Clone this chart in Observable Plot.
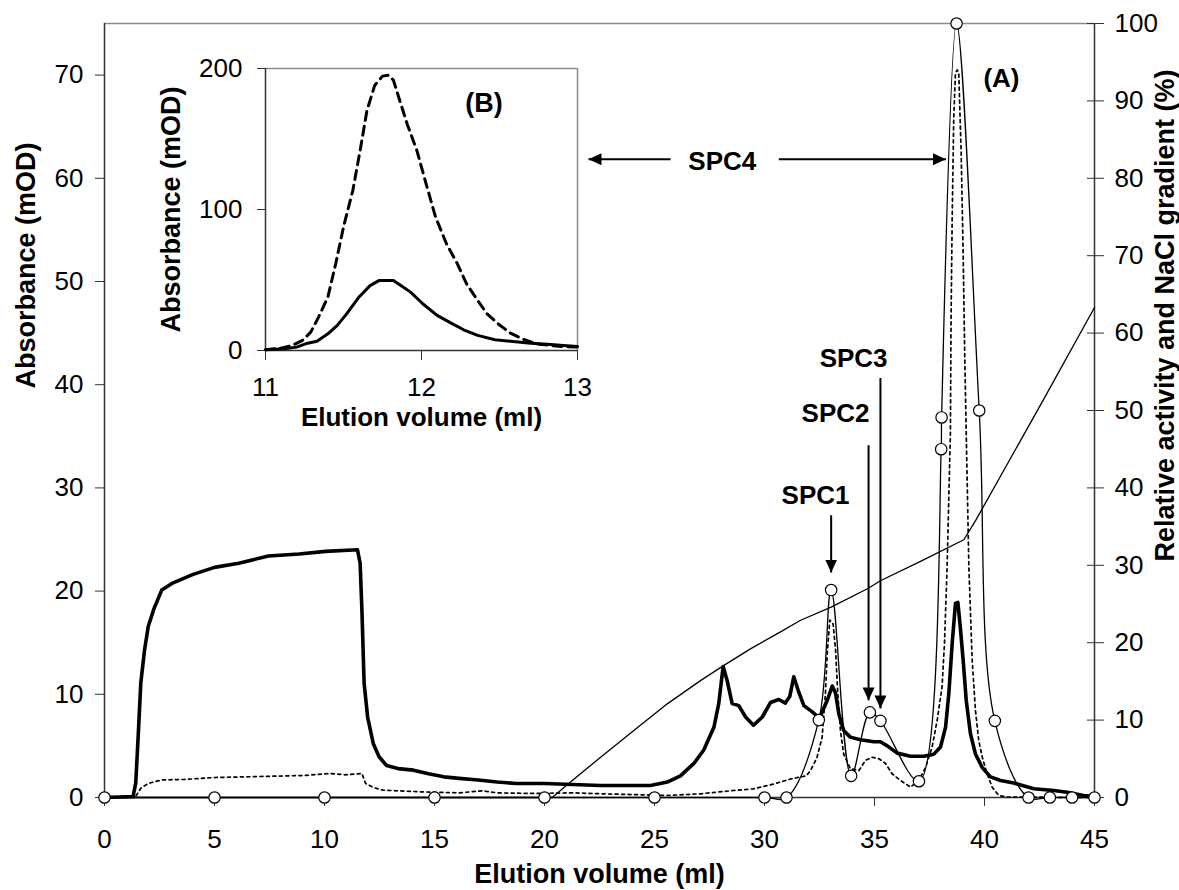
<!DOCTYPE html>
<html>
<head>
<meta charset="utf-8">
<script src="https://cdn.jsdelivr.net/npm/d3@7"></script>
<script src="https://cdn.jsdelivr.net/npm/@observablehq/plot@0.6"></script>
<style>
  body { margin: 0; background: #fff; }
  #chart { position: relative; width: 1179px; height: 890px; }
  #chart svg { position: absolute; overflow: visible; }
</style>
</head>
<body>
<div id="chart"></div>
<script>
// ---- Anion-exchange run (A): absorbance traces, mOD ----
const absSolidMl = [0,1.3,1.42,1.53,1.65,1.82,1.99,2.25,2.6,3.12,4.0,5.0,6.1,7.45,8.85,10.05,11.5,11.62,11.7,11.8,11.96,12.22,12.48,12.82,13.34,14.04,14.73,15.42,16.12,16.98,17.85,18.72,20.0,22.55,24.82,25.58,26.18,26.79,27.24,27.7,27.92,28.12,28.3,28.53,28.83,29.14,29.5,29.9,30.27,30.65,30.95,31.15,31.33,31.56,31.79,32.17,32.5,32.85,33.08,33.23,33.38,33.6,33.9,34.36,34.97,35.27,35.58,36.03,36.64,37.24,37.7,38.0,38.23,38.38,38.53,38.68,38.79,38.9,39.03,39.17,39.36,39.59,39.9,40.27,40.73,41.33,42.24,43.15,43.76,44.5,45];
const absSolidMOD = [0,0.1,1.4,5.9,11.1,14.3,16.6,18.3,20.1,20.8,21.6,22.3,22.7,23.4,23.6,23.85,24.0,22.7,18.2,11.1,7.8,5.2,3.95,3.1,2.8,2.65,2.3,2.0,1.85,1.7,1.5,1.36,1.36,1.16,1.16,1.5,2.1,3.3,4.6,6.8,9.1,12.7,11.35,9.1,8.9,7.8,7.0,7.8,9.2,9.5,9.15,9.8,11.7,10.2,8.9,8.3,7.7,9.4,10.8,10.1,8.1,6.5,5.85,5.6,5.4,5.4,5.0,4.3,4.0,4.0,4.2,4.9,6.8,10.1,14.9,18.8,18.9,16.5,13.3,9.4,6.2,4.2,2.9,2.0,1.65,1.4,0.84,0.68,0.5,0.2,0.1];

const absDottedMl = [0,1.39,1.65,1.99,2.6,3.64,5.03,6.41,7.8,9.19,10.23,10.92,11.7,11.87,12.22,12.65,14.38,16.12,17.16,17.85,19.58,21.3,22.55,25.58,27.1,28.6,29.5,30.4,31.2,31.9,32.09,32.39,32.62,32.77,32.85,32.97,33.12,33.23,33.33,33.45,33.6,33.9,34.29,34.59,34.9,35.2,35.5,35.8,36.18,36.64,37.01,37.32,37.62,37.85,38.07,38.18,38.27,38.3,38.45,38.48,38.53,38.6,38.68,38.76,38.83,38.94,39.03,39.1,39.17,39.29,39.44,39.59,39.74,39.9,40.12,40.35,40.65,41.0,45];
const absDottedMOD = [0,0,0.9,1.36,1.7,1.75,1.94,2.0,2.07,2.14,2.33,2.2,2.33,1.36,0.97,0.71,0.55,0.45,0.65,0.45,0.39,0.45,0.36,0.2,0.36,0.68,0.84,1.3,1.8,2.1,2.6,3.9,5.85,10.1,13.9,17.2,16.8,14.3,10.1,6.5,4.2,2.8,2.6,3.6,3.9,3.75,3.3,2.3,1.65,1.0,1.65,2.9,4.9,7.5,10.7,14.9,20.4,22.3,35.3,46.3,56,65.7,70.2,70.5,70.2,62.4,52.7,43,35.3,22.3,13.3,8.4,5.5,3.9,2.3,1.0,0.2,0.05,0];

// ---- Relative activity of collected fractions, % ----
const activityMl  = [0,5,10,15,20,25,30,31,32.47,33.03,33.94,34.79,35.27,37.02,38.03,38.05,38.73,39.76,40.47,42.0,42.97,43.98,45];
const activityPct = [0,0,0,0,0,0,0,0,10,26.8,2.8,11,9.9,2.1,45,49.1,100,50,9.9,0,0,0,0];

// ---- NaCl gradient, % ----
const naclMl  = [0,20.35,21.18,22.55,24.06,25.58,27.09,28.12,29.36,30.73,31.64,33.03,34.7,35.27,37.16,39.06,39.6,42.7,45];
const naclPct = [0,0,2.0,5.2,8.66,12.1,15.1,17.0,19.2,21.4,22.9,24.6,27.0,28.0,30.6,33.3,35.8,51.5,63.3];

// ---- Gel filtration of SPC4 (B), mOD ----
const insetDashedMl  = [11.0,11.1,11.17,11.235,11.29,11.34,11.4,11.45,11.5,11.56,11.61,11.65,11.7,11.75,11.79,11.82,11.86,11.91,11.97,12.03,12.09,12.16,12.23,12.29,12.36,12.42,12.49,12.57,12.66,12.74,12.83,12.91,13.0];
const insetDashedMOD = [0.5,1.7,3.5,7,13,23.7,38,61.5,87.6,113.6,144,170,188,194.6,195.3,191.7,177.5,160,142,118,94.7,75.7,61.5,47,35.5,26,19,12.3,7.6,4.7,3.5,2.8,2.4];
const insetSolidMl  = [11.0,11.12,11.2,11.27,11.33,11.4,11.46,11.52,11.6,11.67,11.73,11.82,11.87,11.93,12.01,12.1,12.19,12.27,12.36,12.47,12.57,12.7,12.83,12.91,13.0];
const insetSolidMOD = [0.5,1.2,2.4,5.2,6.6,11.8,17.8,26,38,46,49.7,49.7,46,41.4,33,24.9,19.4,14.7,10.7,7.6,6.6,5.2,4.3,3.6,2.8];

// ---- Axis ticks and labels ----
const xTicks = [0,5,10,15,20,25,30,35,40,45];
const yTicksLeft = [0,10,20,30,40,50,60,70];
const yTicksRight = [0,10,20,30,40,50,60,70,80,90,100];
const insetXTicks = [11,12,13];
const insetYTicks = [0,100,200];
const xTitle = "Elution volume (ml)";
const yTitleLeft = "Absorbance (mOD)";
const yTitleRight = "Relative activity and NaCl gradient (%)";

// ---- Peak annotations (data units) ----
const peakLabels = [
  {text: "SPC1", x: 32.32, y: 29.2},
  {text: "SPC2", x: 33.23, y: 37.15},
  {text: "SPC3", x: 34.05, y: 42.48},
  {text: "SPC4", x: 28.08, y: 61.6},
  {text: "(A)",  x: 40.77, y: 69.7}
];
const peakArrows = [
  {x1: 33.03, y1: 27.35, x2: 33.03, y2: 21.8},
  {x1: 34.73, y1: 34.14, x2: 34.73, y2: 9.41},
  {x1: 35.27, y1: 40.64, x2: 35.27, y2: 8.63},
  {x1: 25.73, y1: 61.85, x2: 22.0,  y2: 61.85},
  {x1: 30.65, y1: 61.85, x2: 38.25, y2: 61.85}
];
const insetLabel = [{text: "(B)", x: 12.4, y: 175}];

// ---- helpers ----
const FONT = "'Liberation Sans', Arial, Helvetica, sans-serif";
const AXIS = "#333";
const FRAME = "#8c8c8c";
const toMOD = p => p * 75 / 100;   // right-axis % onto the left-axis mOD scale
const zip = (xs, ys) => xs.map((x, i) => ({x, y: ys[i]}));
const intFormat = d => String(Math.round(d));

const solid = zip(absSolidMl, absSolidMOD);
const dotted = zip(absDottedMl, absDottedMOD);
const activity = zip(activityMl, activityPct);
const nacl = zip(naclMl, naclPct);

const main = Plot.plot({
  width: 1179, height: 890,
  marginLeft: 104, marginRight: 85, marginTop: 23, marginBottom: 93,
  style: {fontFamily: FONT, fontSize: "26px", color: "black", background: "transparent", overflow: "visible"},
  x: {domain: [0, 45]},
  y: {domain: [0, 75]},
  marks: [
    Plot.ruleY([75], {stroke: FRAME, strokeWidth: 1.5}),
    Plot.axisX({ticks: xTicks, tickSize: 9, tickPadding: 23, stroke: AXIS, tickFormat: intFormat, label: null}),
    Plot.axisY({ticks: yTicksLeft, tickSize: 9, tickPadding: 12, stroke: AXIS, tickFormat: intFormat, label: null}),
    Plot.axisY({anchor: "right", ticks: yTicksRight.map(toMOD), tickSize: 17, dx: -8, stroke: AXIS, tickFormat: () => "", label: null}),
    Plot.axisY({anchor: "right", ticks: yTicksRight.map(toMOD), tickSize: 0, tickPadding: 20, tickFormat: d => Math.round(d * 100 / 75), label: null}),
    Plot.ruleX([0], {stroke: AXIS, strokeWidth: 1.5}),
    Plot.ruleX([45], {stroke: AXIS, strokeWidth: 1.5}),
    Plot.ruleY([0], {stroke: AXIS, strokeWidth: 1.5}),

    Plot.line(nacl, {x: "x", y: d => toMOD(d.y), stroke: "black", strokeWidth: 1.3}),
    Plot.line(dotted, {x: "x", y: "y", stroke: "black", strokeWidth: 1.7, strokeDasharray: "3,3.5"}),
    Plot.line(solid, {x: "x", y: "y", stroke: "black", strokeWidth: 3.6, strokeLinejoin: "round"}),
    Plot.line(activity, {x: "x", y: d => toMOD(d.y), stroke: "black", strokeWidth: 1.3, curve: "catmull-rom"}),
    Plot.dot(activity, {x: "x", y: d => toMOD(d.y), r: 5.7, fill: "white", stroke: "black", strokeWidth: 1.2}),

    Plot.link(peakArrows, {x1: "x1", y1: "y1", x2: "x2", y2: "y2", stroke: "black", strokeWidth: 2, className: "peak-arrow"}),
    Plot.text(peakLabels, {x: "x", y: "y", text: "text", fontWeight: "bold", fontSize: 26, fill: "black"}),

    Plot.text([xTitle], {text: d => d, frameAnchor: "bottom", dy: 77, textAnchor: "middle", lineAnchor: "middle", fontWeight: "bold", fontSize: 27, fill: "black"}),
    Plot.text([yTitleLeft], {text: d => d, frameAnchor: "left", dx: -78, dy: -145, rotate: -90, textAnchor: "middle", lineAnchor: "middle", fontWeight: "bold", fontSize: 27, fill: "black"}),
    Plot.text([yTitleRight], {text: d => d, frameAnchor: "right", dx: 71, dy: -95, rotate: -90, textAnchor: "middle", lineAnchor: "middle", fontWeight: "bold", fontSize: 27, fill: "black"})
  ]
});

// filled arrowheads for the annotation arrows
const defs = d3.select(main).insert("defs", ":first-child");
defs.append("marker")
  .attr("id", "peak-head")
  .attr("viewBox", "0 0 13 12")
  .attr("refX", 13).attr("refY", 6)
  .attr("markerWidth", 13).attr("markerHeight", 12)
  .attr("markerUnits", "userSpaceOnUse")
  .attr("orient", "auto")
  .append("path").attr("d", "M0,0L13,6L0,12Z").attr("fill", "black");
d3.select(main).selectAll(".peak-arrow path").attr("marker-end", "url(#peak-head)");
main.style.left = "0px";
main.style.top = "0px";

const inset = Plot.plot({
  width: 480, height: 410,
  marginLeft: 145, marginRight: 23, marginTop: 28, marginBottom: 100,
  style: {fontFamily: FONT, fontSize: "26px", color: "black", background: "transparent", overflow: "visible"},
  x: {domain: [11, 13]},
  y: {domain: [0, 200]},
  marks: [
    Plot.ruleY([200], {stroke: FRAME, strokeWidth: 1.5}),
    Plot.ruleX([13], {stroke: FRAME, strokeWidth: 1.5}),
    Plot.axisX({ticks: insetXTicks, tickSize: 10, tickPadding: 17, stroke: AXIS, tickFormat: intFormat, label: null}),
    Plot.axisY({ticks: insetYTicks, tickSize: 8, tickPadding: 15, stroke: AXIS, tickFormat: intFormat, label: null}),
    Plot.ruleX([11], {stroke: AXIS, strokeWidth: 1.5}),
    Plot.ruleY([0], {stroke: AXIS, strokeWidth: 1.5}),
    Plot.line(zip(insetDashedMl, insetDashedMOD), {x: "x", y: "y", stroke: "black", strokeWidth: 3, strokeDasharray: "9,6"}),
    Plot.line(zip(insetSolidMl, insetSolidMOD), {x: "x", y: "y", stroke: "black", strokeWidth: 3, strokeLinejoin: "round"}),
    Plot.text(insetLabel, {x: "x", y: "y", text: "text", fontWeight: "bold", fontSize: 27, fill: "black"}),
    Plot.text([xTitle], {text: d => d, frameAnchor: "bottom", dy: 67, textAnchor: "middle", lineAnchor: "middle", fontWeight: "bold", fontSize: 26, fill: "black"}),
    Plot.text([yTitleLeft], {text: d => d, frameAnchor: "left", dx: -94, rotate: -90, textAnchor: "middle", lineAnchor: "middle", fontWeight: "bold", fontSize: 27, fill: "black"})
  ]
});
inset.style.left = "120px";
inset.style.top = "40px";

const chart = document.getElementById("chart");
chart.appendChild(main);
chart.appendChild(inset);
</script>
</body>
</html>
